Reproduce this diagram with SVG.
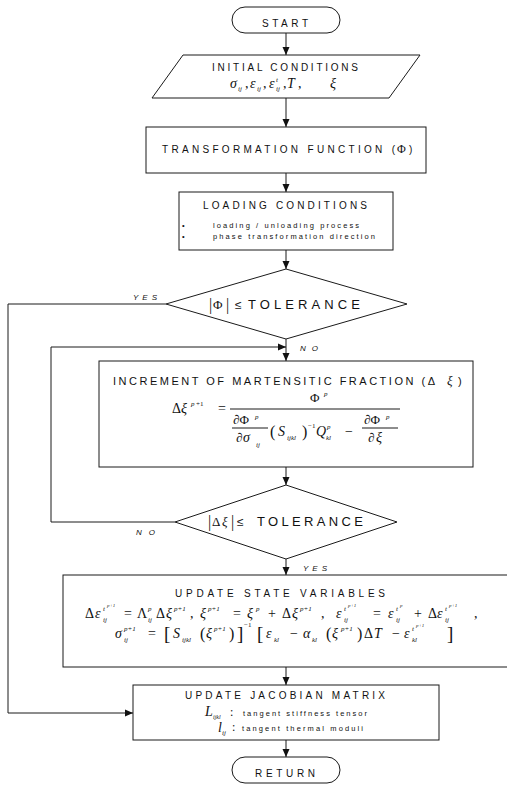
<svg xmlns="http://www.w3.org/2000/svg" width="507" height="786" viewBox="0 0 507 786">
  <style>
    .shape { fill: #fff; stroke: #1a1a1a; stroke-width: 1; }
    .ln { fill: none; stroke: #1a1a1a; stroke-width: 1; }
    .lbl { font-family: "Liberation Sans", Arial, sans-serif; font-size: 10px; fill: #111; }
    .sm { font-family: "Liberation Sans", Arial, sans-serif; font-size: 7.5px; fill: #111; }
    .yn { font-family: "Liberation Sans", Arial, sans-serif; font-size: 8px; font-style: italic; fill: #111; }
    .m { font-family: "Liberation Serif", "Times New Roman", serif; font-size: 14px; font-style: italic; fill: #111; }
    .u { font-family: "Liberation Serif", "Times New Roman", serif; font-size: 14px; fill: #111; }
    .s { font-size: 7px; }
    .xs { font-size: 5px; }
    .br { font-size: 19px; }
    .pr { font-size: 16px; }
    .t13 { font-size: 13px; }
  </style>
  <defs>
    <marker id="ah" markerWidth="8" markerHeight="8" refX="8" refY="4" orient="auto" markerUnits="userSpaceOnUse">
      <path d="M0,0.5 L8,4 L0,7.5 z" fill="#111"/>
    </marker>
  </defs>

  <!-- connectors -->
  <g id="connectors">
    <line class="ln" x1="286" y1="33" x2="286" y2="55" marker-end="url(#ah)"/>
    <line class="ln" x1="286" y1="98" x2="286" y2="127" marker-end="url(#ah)"/>
    <line class="ln" x1="286" y1="173" x2="286" y2="192" marker-end="url(#ah)"/>
    <line class="ln" x1="286" y1="250" x2="286" y2="269" marker-end="url(#ah)"/>
    <line class="ln" x1="286" y1="339" x2="286" y2="361" marker-end="url(#ah)"/>
    <polyline class="ln" points="166,304 8,304 8,713 133,713" marker-end="url(#ah)"/>
    <line class="ln" x1="286" y1="467" x2="286" y2="485" marker-end="url(#ah)"/>
    <polyline class="ln" points="175,522 51,522 51,347 286,347" marker-end="url(#ah)"/>
    <line class="ln" x1="286" y1="559" x2="286" y2="575" marker-end="url(#ah)"/>
    <line class="ln" x1="286" y1="667" x2="286" y2="685" marker-end="url(#ah)"/>
    <line class="ln" x1="286" y1="740" x2="286" y2="757" marker-end="url(#ah)"/>
    <text class="yn" x="133" y="300" textLength="24" lengthAdjust="spacing">YES</text>
    <text class="yn" x="300" y="351" textLength="18" lengthAdjust="spacing">NO</text>
    <text class="yn" x="136" y="535" textLength="19" lengthAdjust="spacing">NO</text>
    <text class="yn" x="303" y="571" textLength="24" lengthAdjust="spacing">YES</text>
  </g>

  <!-- start terminal -->
  <g id="start">
    <rect class="shape" x="232" y="7" width="108" height="26" rx="13"/>
    <text class="lbl" x="262" y="27" textLength="46" lengthAdjust="spacing">START</text>
  </g>

  <!-- initial conditions (input) -->
  <g id="initial-conditions">
    <polygon class="shape" points="183,55 420,55 389,98 152,98"/>
    <text class="lbl" x="212" y="71" textLength="146" lengthAdjust="spacing">INITIAL CONDITIONS</text>
    <text class="m" x="230" y="88">σ</text><text class="m s" x="238" y="91">ij</text>
    <text class="u" x="245" y="88">,</text>
    <text class="m" x="250" y="88">ε</text><text class="m s" x="257" y="91">ij</text>
    <text class="u" x="263" y="88">,</text>
    <text class="m" x="269" y="88">ε</text><text class="m s" x="276" y="82">t</text><text class="m s" x="276" y="91">ij</text>
    <text class="u" x="283" y="88">,</text>
    <text class="m" x="287" y="88">T</text>
    <text class="u" x="298" y="88">,</text>
    <text class="m" x="330" y="88">ξ</text>
  </g>

  <!-- transformation function -->
  <g id="transformation-function">
    <rect class="shape" x="146" y="127" width="280" height="46"/>
    <text class="lbl" x="162" y="153" textLength="233" lengthAdjust="spacing">TRANSFORMATION FUNCTION (</text>
    <text class="u" x="397" y="153" style="font-size:12px">Φ</text>
    <text class="lbl" x="409" y="153">)</text>
  </g>

  <!-- loading conditions -->
  <g id="loading-conditions">
    <rect class="shape" x="179" y="192" width="214" height="58"/>
    <text class="lbl" x="203" y="209" textLength="164" lengthAdjust="spacing">LOADING CONDITIONS</text>
    <text class="sm" x="182" y="228">•</text>
    <text class="sm" x="213" y="228" textLength="146" lengthAdjust="spacing">loading / unloading process</text>
    <text class="sm" x="182" y="239">•</text>
    <text class="sm" x="213" y="239" textLength="162" lengthAdjust="spacing">phase transformation direction</text>
  </g>

  <!-- |Phi| tolerance check -->
  <g id="phi-check">
    <polygon class="shape" points="286,269 407,304 286,339 166,304"/>
    <text class="u pr" x="209" y="310">|</text>
    <text class="u t13" x="213" y="309">Φ</text>
    <text class="u pr" x="226" y="310">|</text>
    <text class="lbl" x="235" y="309" style="font-size:12px">≤</text>
    <text class="lbl" x="248" y="309" style="font-size:13px" textLength="112" lengthAdjust="spacing">TOLERANCE</text>
  </g>

  <!-- increment of martensitic fraction -->
  <g id="increment">
    <rect class="shape" x="99" y="361" width="374" height="106"/>
    <text class="lbl" x="113" y="385" style="font-size:11px" textLength="322" lengthAdjust="spacing">INCREMENT OF MARTENSITIC FRACTION (Δ</text>
    <text class="m t13" x="447" y="385">ξ</text>
    <text class="lbl" x="458" y="385" style="font-size:11px">)</text>
    <!-- left-hand side -->
    <text class="u" x="172" y="413">Δ</text>
    <text class="m" x="181" y="413">ξ</text>
    <text class="m s" x="191" y="406">p</text><text class="u s" x="196" y="406">+1</text>
    <text class="u" x="218" y="413">=</text>
    <!-- main fraction -->
    <line class="ln" x1="230" y1="409" x2="400" y2="409"/>
    <text class="u t13" x="310" y="402">Φ</text><text class="m s" x="324" y="396">p</text>
    <!-- dPhi/dsigma -->
    <text class="u t13" x="233" y="424">∂Φ</text><text class="m s" x="255" y="419">p</text>
    <line class="ln" x1="232" y1="428" x2="268" y2="428"/>
    <text class="u t13" x="236" y="442">∂</text><text class="m" x="243" y="442">σ</text><text class="m s" x="256" y="447">ij</text>
    <text class="u pr" x="270" y="437">(</text>
    <text class="m" x="278" y="436">S</text><text class="m s" x="287" y="440">ijkl</text>
    <text class="u pr" x="302" y="437">)</text>
    <text class="u s" x="308" y="428">−1</text>
    <text class="m" x="316" y="436">Q</text><text class="m s" x="327" y="429">p</text><text class="m s" x="326" y="440">kl</text>
    <text class="u" x="345" y="436">−</text>
    <!-- dPhi/dxi -->
    <text class="u t13" x="364" y="424">∂Φ</text><text class="m s" x="386" y="419">p</text>
    <line class="ln" x1="362" y1="428" x2="398" y2="428"/>
    <text class="u t13" x="368" y="442">∂</text><text class="m" x="376" y="442">ξ</text>
  </g>

  <!-- |delta xi| tolerance check -->
  <g id="xi-check">
    <polygon class="shape" points="286,485 397,522 286,559 175,522"/>
    <text class="u pr" x="208" y="527">|</text>
    <text class="u t13" x="212" y="526">Δ</text>
    <text class="m t13" x="222" y="526">ξ</text>
    <text class="u pr" x="231" y="527">|</text>
    <text class="lbl" x="237" y="526" style="font-size:12px">≤</text>
    <text class="lbl" x="257" y="526" style="font-size:13px" textLength="106" lengthAdjust="spacing">TOLERANCE</text>
  </g>

  <!-- update state variables -->
  <g id="update-state">
    <rect class="shape" x="63" y="575" width="446" height="92"/>
    <text class="lbl" x="175" y="597" textLength="210" lengthAdjust="spacing">UPDATE STATE VARIABLES</text>
    <!-- line 1 -->
    <text class="u" x="85" y="618">Δ</text><text class="m" x="95" y="618">ε</text>
    <text class="m s" x="103" y="611">t</text><text class="m xs" x="107" y="607">p+1</text><text class="m s" x="103" y="622">ij</text>
    <text class="u" x="124" y="618">=</text>
    <text class="u" x="137" y="618">Λ</text><text class="m s" x="148" y="611">p</text><text class="m s" x="148" y="622">ij</text>
    <text class="u" x="156" y="618">Δ</text><text class="m" x="166" y="618">ξ</text><text class="m s" x="174" y="611">p+1</text>
    <text class="u" x="190" y="618">,</text>
    <text class="m" x="200" y="618">ξ</text><text class="m s" x="208" y="611">p+1</text>
    <text class="u" x="233" y="618">=</text>
    <text class="m" x="247" y="618">ξ</text><text class="m s" x="256" y="611">p</text>
    <text class="u" x="268" y="618">+</text>
    <text class="u" x="282" y="618">Δ</text><text class="m" x="292" y="618">ξ</text><text class="m s" x="300" y="611">p+1</text>
    <text class="u" x="321" y="618">,</text>
    <text class="m" x="336" y="618">ε</text>
    <text class="m s" x="344" y="611">t</text><text class="m xs" x="348" y="607">p+1</text><text class="m s" x="344" y="622">ij</text>
    <text class="u" x="373" y="618">=</text>
    <text class="m" x="388" y="618">ε</text>
    <text class="m s" x="396" y="611">t</text><text class="m xs" x="400" y="607">p</text><text class="m s" x="396" y="622">ij</text>
    <text class="u" x="414" y="618">+</text>
    <text class="u" x="428" y="618">Δ</text><text class="m" x="437" y="618">ε</text>
    <text class="m s" x="445" y="611">t</text><text class="m xs" x="449" y="607">p+1</text><text class="m s" x="445" y="622">ij</text>
    <text class="u" x="474" y="618">,</text>
    <!-- line 2 -->
    <text class="m" x="115" y="638">σ</text><text class="m s" x="124" y="631">p+1</text><text class="m s" x="124" y="642">ij</text>
    <text class="u" x="148" y="638">=</text>
    <text class="u br" x="164" y="640">[</text>
    <text class="m" x="173" y="638">S</text><text class="m s" x="182" y="642">ijkl</text>
    <text class="u pr" x="200" y="639">(</text>
    <text class="m" x="206" y="638">ξ</text><text class="m s" x="214" y="631">p+1</text>
    <text class="u pr" x="229" y="639">)</text>
    <text class="u br" x="237" y="640">]</text>
    <text class="u s" x="244" y="627">−1</text>
    <text class="u br" x="257" y="640">[</text>
    <text class="m" x="266" y="638">ε</text><text class="m s" x="274" y="642">kl</text>
    <text class="u" x="290" y="638">−</text>
    <text class="m" x="303" y="638">α</text><text class="m s" x="312" y="642">kl</text>
    <text class="u pr" x="326" y="639">(</text>
    <text class="m" x="332" y="638">ξ</text><text class="m s" x="341" y="631">p+1</text>
    <text class="u pr" x="357" y="639">)</text>
    <text class="u" x="364" y="638">Δ</text><text class="m" x="374" y="638">T</text>
    <text class="u" x="392" y="638">−</text>
    <text class="m" x="404" y="638">ε</text>
    <text class="m s" x="412" y="631">t</text><text class="m xs" x="416" y="627">p+1</text><text class="m s" x="412" y="642">kl</text>
    <text class="u br" x="447" y="640">]</text>
  </g>

  <!-- update jacobian matrix -->
  <g id="update-jacobian">
    <rect class="shape" x="133" y="685" width="306" height="55"/>
    <text class="lbl" x="185" y="699" textLength="200" lengthAdjust="spacing">UPDATE JACOBIAN MATRIX</text>
    <text class="m" x="205" y="716">L</text><text class="m" x="213" y="718.5" style="font-size:6px">ijkl</text>
    <text class="u" x="230" y="716" style="font-size:12px">:</text>
    <text class="sm" x="243" y="716" textLength="124" lengthAdjust="spacing">tangent stiffness tensor</text>
    <text class="m" x="218" y="732">l</text><text class="m s" x="222" y="735">ij</text>
    <text class="u" x="232" y="731" style="font-size:12px">:</text>
    <text class="sm" x="242" y="731" textLength="121" lengthAdjust="spacing">tangent thermal moduli</text>
  </g>

  <!-- return terminal -->
  <g id="return">
    <rect class="shape" x="232" y="757" width="108" height="26" rx="13"/>
    <text class="lbl" x="255" y="777" textLength="60" lengthAdjust="spacing">RETURN</text>
  </g>
</svg>
